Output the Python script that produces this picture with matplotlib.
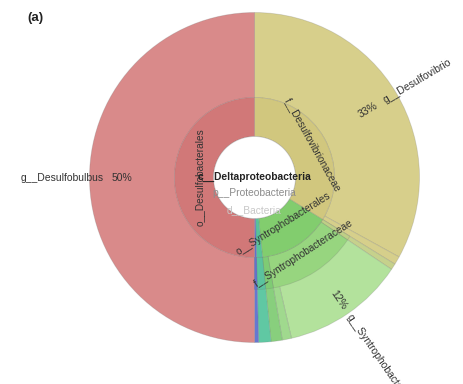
import numpy as np
import matplotlib
matplotlib.use('Agg')
from matplotlib import pyplot as plt
from matplotlib.patches import Wedge, Circle

# genus wedges, clockwise from 12 o'clock (percent of reads)
genus_names = ['g__Desulfovibrio', '', '', 'g__Syntrophobacter', '', '', '', '', 'g__Desulfobulbus']
genus_pct = [33.0, 0.8, 0.6, 12.0, 0.9, 1.1, 1.2, 0.4, 50.0]
genus_labelled = [True, False, False, True, False, False, False, False, True]
genus_colors = ['#d7cf8b', '#d6cf8b', '#c6d18c', '#b3e29c', '#a0d98e', '#88cf7d', '#60c8a3', '#6678d0', '#d98a8a']

# family ring (only where the tree is not collapsed)
family_names = ['', 'f__Syntrophobacteraceae', '', '', '']
family_pct = [0.6, 12.9, 1.1, 1.2, 0.4]
family_start = 33.8
family_colors = ['#bfcf86', '#97d57f', '#7fcb74', '#5bc39e', '#6272cd']

# inner ring
order_names = ['f__Desulfovibrionaceae', 'o__Syntrophobacterales', '', '', 'o__Desulfobacterales']
order_pct = [33.8, 14.6, 1.2, 0.4, 50.0]
order_colors = ['#d1c77e', '#82cd6e', '#58c29b', '#6070cc', '#d17878']
order_label_r = [67, 54, 0, 0, 54.5]

center_labels = ['c__Deltaproteobacteria', 'p__Proteobacteria', 'd__Bacteria']

cx, cy = 254.5, 177.5
r_hole, r_order, r_family, r_out = 41, 80, 112, 165
edge = (0.45, 0.45, 0.45, 0.25)
font = 'Liberation Sans'


def spans(pcts, start=0.0):
    c = start + np.concatenate([[0], np.cumsum(pcts)])
    return c[:-1] * 3.6, c[1:] * 3.6


def pt(c, r):
    a = np.radians(c)
    return cx + r * np.sin(a), cy - r * np.cos(a)


fig = plt.figure(figsize=(4.64, 3.84), dpi=100)
ax = fig.add_axes([0, 0, 1, 1])
ax.set_xlim(0, 464)
ax.set_ylim(384, 0)
ax.set_aspect('equal')
ax.axis('off')

# y axis is flipped, so data angle c-90 runs clockwise on screen
g0, g1 = spans(genus_pct)
for a, b, col in zip(g0, g1, genus_colors):
    ax.add_patch(Wedge((cx, cy), r_out, a - 90, b - 90, width=r_out - r_order,
                       fc=col, ec=edge, lw=0.6))

f0, f1 = spans(family_pct, family_start)
for a, b, col in zip(f0, f1, family_colors):
    ax.add_patch(Wedge((cx, cy), r_family, a - 90, b - 90, width=r_family - r_order,
                       fc=col, ec=edge, lw=0.6))

o0, o1 = spans(order_pct)
for a, b, col in zip(o0, o1, order_colors):
    ax.add_patch(Wedge((cx, cy), r_order, a - 90, b - 90, width=r_order - r_hole,
                       fc=col, ec=edge, lw=0.6))

ax.add_patch(Circle((cx, cy), r_hole, fc='white', ec=(0.5, 0.5, 0.5, 0.35), lw=0.6, zorder=3))


def tangent_label(text, c, r, size=7.3):
    x, y = pt(c, r)
    rot = 90 - c - 90
    while rot <= -90:
        rot += 180
    while rot > 90:
        rot -= 180
    ax.text(x, y, text, rotation=rot, rotation_mode='anchor', ha='center', va='center',
            fontsize=size, family=font, color='#333333', zorder=5)


def radial_label(name, pct, c, r_pct, r_name, size=7.5):
    th = 90 - c
    if np.cos(np.radians(th)) >= 0:
        rot, ha_p, ha_n = th, 'left', 'left'
    else:
        rot, ha_p, ha_n = th - 180, 'left', 'right'
    if rot <= -180:
        rot += 360
    x, y = pt(c, r_pct)
    ax.text(x, y, f"{pct:.0f}%", rotation=rot, rotation_mode='anchor', ha=ha_p, va='center',
            fontsize=size, family=font, color='#333333', zorder=5)
    x, y = pt(c, r_name)
    ax.text(x, y, name, rotation=rot, rotation_mode='anchor', ha=ha_n, va='center',
            fontsize=size, family=font, color='#333333', zorder=5)


# genus labels run out past the rim
label_r = {0: (122, 151), 3: (138, 167), 8: (143, 151)}
for i, name in enumerate(genus_names):
    if genus_labelled[i]:
        mid = (g0[i] + g1[i]) / 2
        rp, rn = label_r[i]
        radial_label(name, genus_pct[i], mid, rp, rn)

for i, name in enumerate(family_names):
    if name:
        tangent_label(name, (f0[i] + f1[i]) / 2, 90)

for i, name in enumerate(order_names):
    if name:
        tangent_label(name, (o0[i] + o1[i]) / 2, order_label_r[i])

ax.text(cx, 177, center_labels[0], ha='center', va='center', fontsize=7.4,
        family=font, weight='bold', color='#222222', zorder=6)
ax.text(cx, 193, center_labels[1], ha='center', va='center', fontsize=7.4,
        family=font, color='#8c8c8c', zorder=6)
ax.text(cx, 210, center_labels[2], ha='center', va='center', fontsize=7.4,
        family=font, color='#c8c8c8', zorder=6)

fig.text(27 / 464, 1 - 18 / 384, '(a)', ha='left', va='center', fontsize=9.5,
         family=font, weight='bold', color='#222222')

fig.savefig('out.png', dpi=100, facecolor='white')
